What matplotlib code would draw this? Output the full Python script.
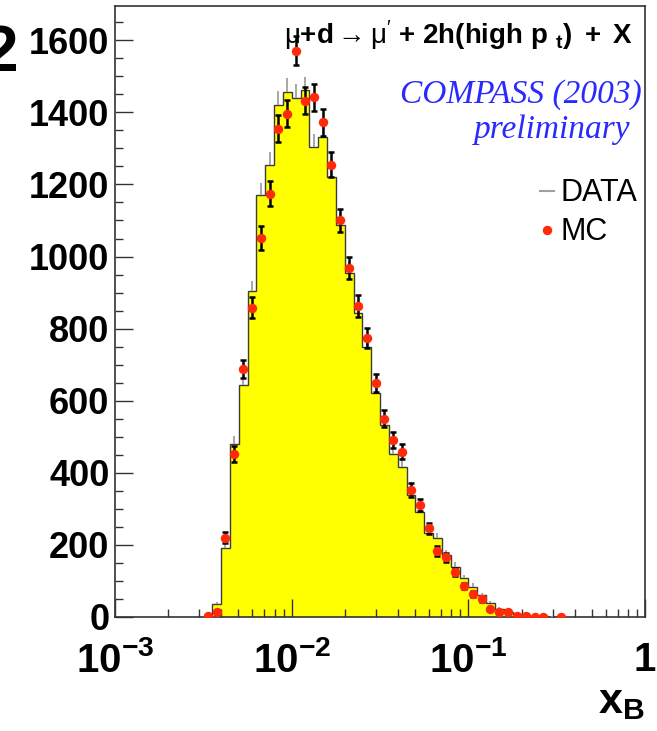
import matplotlib
matplotlib.use("Agg")
import matplotlib.pyplot as plt
from matplotlib.lines import Line2D
from matplotlib.ticker import MultipleLocator, FixedLocator, LogLocator, NullFormatter
import numpy as np

plt.rcParams["font.family"] = ["Liberation Sans", "DejaVu Sans"]
plt.rcParams["mathtext.fontset"] = "custom"
plt.rcParams["mathtext.rm"] = "Liberation Sans"
plt.rcParams["mathtext.bf"] = "Liberation Sans:bold"
plt.rcParams["mathtext.it"] = "Liberation Sans:italic"

# binning: 20 bins per decade in log10(x_B), first bin starts at 10^-2.5
log_lo = -2.50
log_step = 0.05

data_counts = [0, 36, 192, 480, 644, 903, 1171, 1255, 1421, 1457, 1440,
               1461, 1304, 1332, 1222, 1088, 954, 843, 750, 621, 533,
               452, 417, 338, 292, 232, 218, 172, 140, 107, 84,
               60, 38, 22, 14, 8, 5, 3, 2, 1, 1]
mc_counts = [2, 15, 220, 452, 688, 858, 1051, 1174, 1355, 1396, 1571,
             1432, 1442, 1372, 1255, 1100, 968, 863, 775, 649, 550,
             490, 459, 353, 311, 246, 184, 166, 126, 86, 63,
             49, 22, 15, 13, 2, 4, 1, 1, np.nan, 1]

xticks = [1e-3, 1e-2, 1e-1, 1]
xtick_labels = [r"$\mathbf{10^{-3}}$", r"$\mathbf{10^{-2}}$",
                r"$\mathbf{10^{-1}}$", r"$\mathbf{1}$"]


def make_bins(n):
    edges = 10 ** (log_lo + log_step * np.arange(n + 1))
    centers = 10 ** (log_lo + log_step * (np.arange(n) + 0.5))
    return edges, centers


def plot_hist(ax):
    data = np.array(data_counts, dtype=float)
    mc = np.array(mc_counts, dtype=float)
    edges, centers = make_bins(len(data))

    ax.stairs(data, edges, fill=True, color="#ffff00", zorder=1)
    ax.stairs(data, edges, color="#3c3c3c", lw=1.0, zorder=2)
    m = data > 0
    ax.vlines(centers[m], data[m], data[m] + np.sqrt(data[m]),
              color="#a0a0a0", lw=1.3, zorder=3)
    ax.errorbar(centers, mc, yerr=np.sqrt(mc), fmt="o", ms=6.8,
                color="#ff2a0a", mec="none", ecolor="black",
                elinewidth=1.8, capsize=2.2, capthick=1.8, zorder=4)


fig = plt.figure(figsize=(6.57, 7.31), dpi=100)
ax = fig.add_axes([115 / 657, 1 - 617 / 731, 530 / 657, 611 / 731])
plot_hist(ax)

ax.set_xscale("log")
ax.set_xlim(1e-3, 1)
ax.set_ylim(0, 1695)

ax.xaxis.set_major_locator(FixedLocator(xticks))
ax.xaxis.set_minor_locator(LogLocator(base=10, subs=np.arange(2, 10)))
ax.xaxis.set_minor_formatter(NullFormatter())
ax.set_xticklabels(xtick_labels, fontsize=29)
ax.yaxis.set_major_locator(MultipleLocator(200))
ax.yaxis.set_minor_locator(MultipleLocator(50))
for lab in ax.get_yticklabels():
    lab.set_fontsize(26)
    lab.set_fontweight("bold")

ax.tick_params(which="both", direction="in", top=False, right=False,
               color="#333333", width=1.0)
ax.tick_params(which="major", length=13)
ax.tick_params(which="minor", length=6)
ax.tick_params(axis="y", pad=4)
ax.tick_params(axis="x", pad=17)
for sp in ax.spines.values():
    sp.set_color("#333333")
    sp.set_linewidth(1.2)

ax.text(0.977, 0.938,
        r"$\mathrm{μ}\mathbf{+d}\rightarrow\mathrm{μ}^{\prime}\ "
        r"\mathbf{+\ 2h(high\ p}\ {}_{\mathbf{t}}\mathbf{)\ +\ X}$",
        transform=ax.transAxes, ha="right", va="baseline", fontsize=20)
ax.text(0.994, 0.841, "COMPASS (2003)", transform=ax.transAxes,
        ha="right", va="baseline", fontsize=24, style="italic",
        family="Liberation Serif", color="#2a2aff")
ax.text(0.972, 0.784, "preliminary", transform=ax.transAxes,
        ha="right", va="baseline", fontsize=24, style="italic",
        family="Liberation Serif", color="#2a2aff")

handles = [Line2D([], [], color="#a0a0a0", lw=1.5),
           Line2D([], [], ls="none", marker="o", ms=6.8, color="#ff2a0a",
                  mec="none")]
ax.legend(handles, ["DATA", "MC"], loc="upper right",
          bbox_to_anchor=(0.985, 0.718), frameon=False, fontsize=22,
          handlelength=0.45, handletextpad=0.2, labelspacing=0.3,
          borderpad=0, borderaxespad=0)

fig.text(645 / 657, 1 - 713 / 731, r"$\mathbf{x_{B}}$", fontsize=31,
         ha="right", va="baseline")
fig.text(18 / 657, 1 - 54 / 731, "2", fontsize=46, fontweight="bold",
         ha="right", va="center")

fig.savefig("out.png", dpi=100)
